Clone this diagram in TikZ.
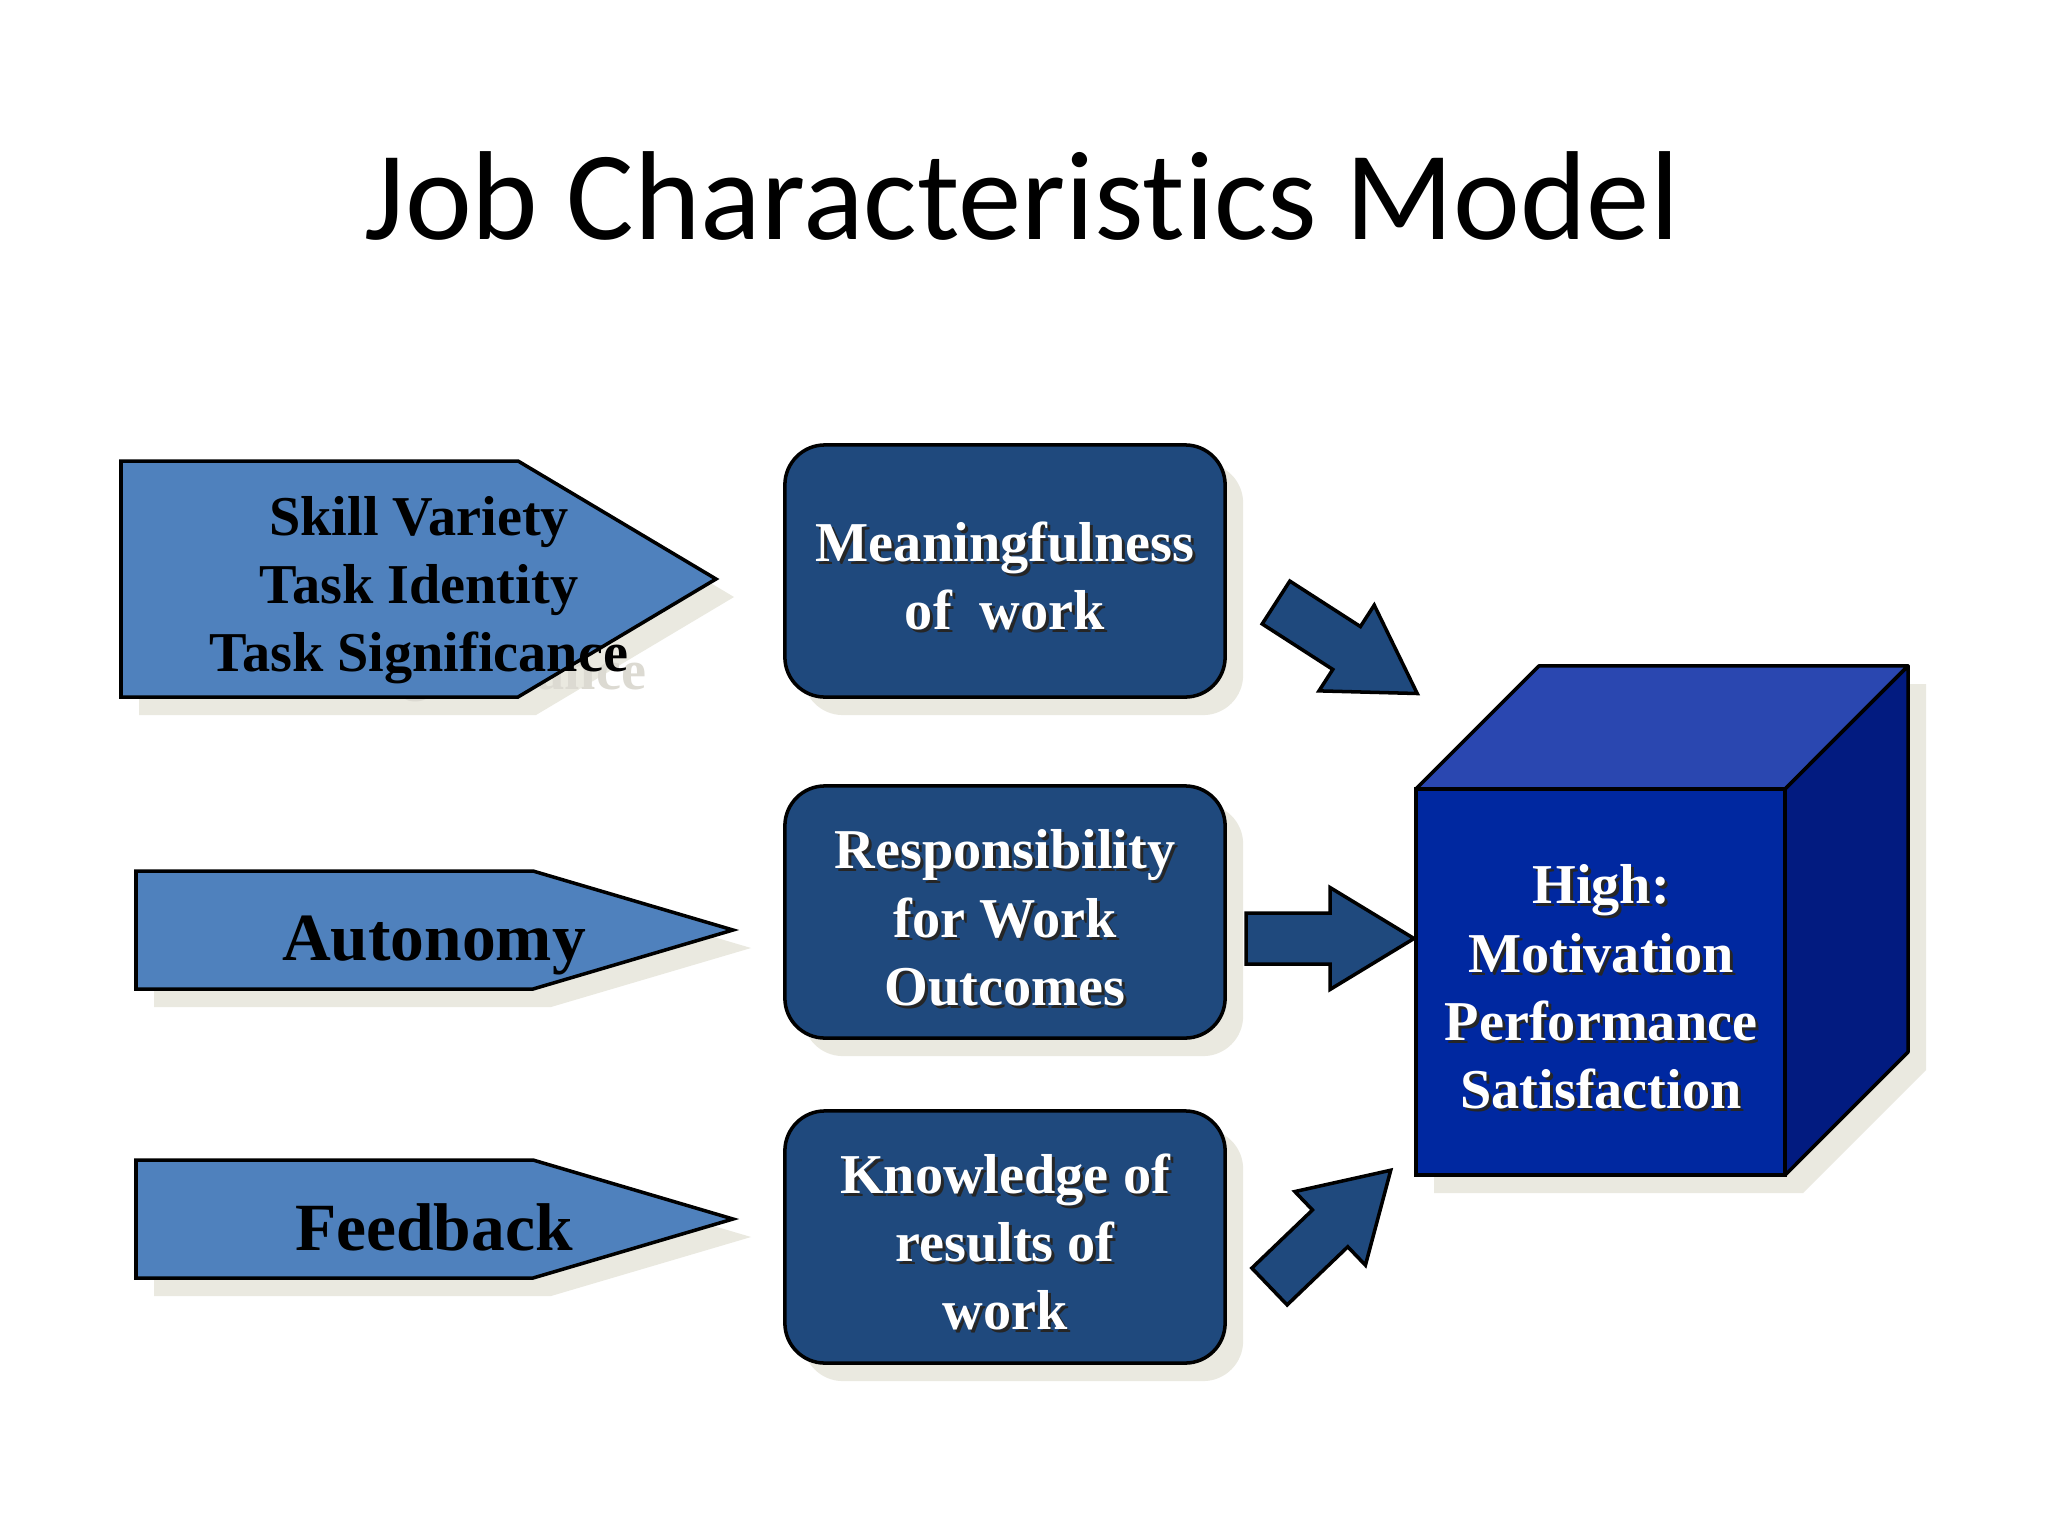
\documentclass[tikz,border=0pt]{standalone}
\usepackage{fontspec}
\setmainfont{Liberation Serif}
\newfontfamily\titlefont[Ligatures=NoCommon]{Carlito}
\usetikzlibrary{shadows}

\definecolor{chevblue}{HTML}{4F81BD}
\definecolor{boxblue}{HTML}{1F497D}
\definecolor{cubefront}{HTML}{0028A0}
\definecolor{cubetop}{HTML}{2A47B0}
\definecolor{cubeside}{HTML}{021B80}
\definecolor{shadowc}{HTML}{EAE9E0}
\definecolor{ghost}{HTML}{DCDAD2}

% white text with a small dark shadow
\newcommand{\whitelabel}[3]{%
  \node[labeltext, text=black!85] (#1-sh) at ([shift={(3,3)}]#2) {#3};
  \node[labeltext, text=white] (#1) at (#2) {#3};}

% fat block arrow: tail point, angle
\newcommand{\fatarrow}[2]{%
  \draw[blockarrow, shift={(#1)}, rotate=#2]
    (0,-25.5) -- (84,-25.5) -- (84,-51) -- (168,0) -- (84,51) -- (84,25.5) -- (0,25.5) -- cycle;}

\begin{document}
\begin{tikzpicture}[x=0.01cm, y=-0.01cm,
    every node/.style={inner sep=0pt, outer sep=0pt},
    labeltext/.style={font=\bfseries\fontsize{16}{19.4}\selectfont, align=center},
    bigtext/.style={font=\bfseries\fontsize{19.2}{23}\selectfont},
    chevron/.style={draw=black, line width=1pt, fill=chevblue},
    roundbox/.style={draw=black, line width=1pt, fill=boxblue, rounded corners=0.4cm,
      minimum width=4.4cm, minimum height=2.52cm,
      general shadow={fill=shadowc, shadow xshift=0.18cm, shadow yshift=-0.18cm}},
    blockarrow/.style={draw=black, line width=1pt, fill=boxblue}]

  \fill[white] (0,0) rectangle (2048,1536);
  \useasboundingbox (0,0) rectangle (2048,1536);

  \node[font=\titlefont\fontsize{36}{40}\selectfont, anchor=base] (title) at (1022,239)
    {Job Characteristics Model};

  % shadows of the chevrons
  \begin{scope}[shift={(18,18)}]
    \fill[shadowc] (121,461) -- (518,461) -- (716,579) -- (518,697) -- (121,697) -- cycle;
    \fill[shadowc] (136,871) -- (533,871) -- (733,930) -- (533,989) -- (136,989) -- cycle;
    \fill[shadowc] (136,1160) -- (533,1160) -- (733,1219) -- (533,1278) -- (136,1278) -- cycle;
  \end{scope}
  \node[labeltext, text=ghost] (skills-sh) at (437,608)
    {Skill Variety\\Task Identity\\Task Significance};

  % core job dimensions
  \draw[chevron] (121,461) -- (518,461) -- (716,579) -- (518,697) -- (121,697) -- cycle;
  \draw[chevron] (136,871) -- (533,871) -- (733,930) -- (533,989) -- (136,989) -- cycle;
  \draw[chevron] (136,1160) -- (533,1160) -- (733,1219) -- (533,1278) -- (136,1278) -- cycle;

  \node[labeltext] (skills) at (419,590) {Skill Variety\\Task Identity\\Task Significance};
  \node[bigtext, anchor=base] (autonomy) at (434,960) {Autonomy};
  \node[bigtext, anchor=base] (feedback) at (434,1250) {Feedback};

  % psychological states
  \node[roundbox] (meaning) at (1005,571) {};
  \node[roundbox] (respons) at (1005,912) {};
  \node[roundbox] (knowledge) at (1005,1237) {};

  \whitelabel{meaning-text}{1005,576}{Meaningfulness\\of\ \ work}
  \whitelabel{respons-text}{1005,918}{Responsibility\\for Work\\Outcomes}
  \whitelabel{knowledge-text}{1005,1242}{Knowledge of\\results of\\work}

  % outcomes cube
  \fill[shadowc, shift={(18,18)}] (1416,789) -- (1539,666) -- (1908,666) -- (1908,1052)
    -- (1785,1175) -- (1416,1175) -- cycle;
  \node[draw=black, line width=1pt, fill=cubefront, minimum width=3.69cm,
    minimum height=3.86cm] (outcome) at (1600.5,982) {};
  \draw[line width=1pt, fill=cubetop, line join=round] (outcome.north west) -- ++(123,-123)
    -- ++(369,0) -- (outcome.north east) -- cycle;
  \draw[line width=1pt, fill=cubeside, line join=round] (outcome.north east) -- ++(123,-123)
    -- ++(0,386) -- (outcome.south east) -- cycle;
  \whitelabel{outcome-text}{1601,987}{High:\\Motivation\\Performance\\Satisfaction}

  % arrows into the cube
  \coordinate (tail1) at (1276,602.5);
  \coordinate (tail2) at (1246,938.5);
  \coordinate (tail3) at (1269.5,1286.5);
  \fatarrow{tail1}{-32.8}
  \fatarrow{tail2}{0}
  \fatarrow{tail3}{43.8}

\end{tikzpicture}
\end{document}
